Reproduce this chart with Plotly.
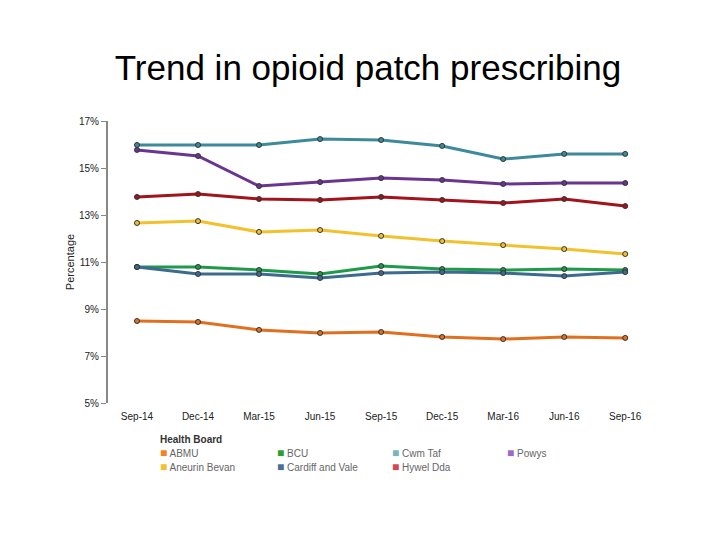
import plotly.graph_objects as go

quarters = ["Sep-14", "Dec-14", "Mar-15", "Jun-15", "Sep-15", "Dec-15", "Mar-16", "Jun-16", "Sep-16"]

abmu = [8.49, 8.45, 8.11, 7.98, 8.02, 7.81, 7.72, 7.81, 7.77]
bcu = [10.79, 10.79, 10.66, 10.49, 10.83, 10.70, 10.66, 10.70, 10.66]
cwm_taf = [15.98, 15.98, 15.98, 16.23, 16.19, 15.94, 15.38, 15.60, 15.60]
powys = [15.77, 15.51, 14.23, 14.40, 14.57, 14.49, 14.32, 14.36, 14.36]
aneurin_bevan = [12.66, 12.74, 12.28, 12.36, 12.11, 11.89, 11.72, 11.55, 11.34]
cardiff_vale = [10.79, 10.49, 10.49, 10.32, 10.53, 10.57, 10.53, 10.40, 10.57]
hywel_dda = [13.77, 13.89, 13.68, 13.64, 13.77, 13.64, 13.51, 13.68, 13.38]

# name, values, line colour, legend swatch colour, legend column, legend row
boards = [
    ("ABMU", abmu, "#e07020", "#f58220", 0, 0),
    ("BCU", bcu, "#1f9a4a", "#2ca02c", 1, 0),
    ("Cwm Taf", cwm_taf, "#3d8a9a", "#78b8b4", 2, 0),
    ("Powys", powys, "#6a3590", "#9b6bbf", 3, 0),
    ("Aneurin Bevan", aneurin_bevan, "#f2c12e", "#f2c12e", 0, 1),
    ("Cardiff and Vale", cardiff_vale, "#3f6a8f", "#4a6f96", 1, 1),
    ("Hywel Dda", hywel_dda, "#a0141e", "#d9464e", 2, 1),
]

fig = go.Figure()
for name, vals, col, _, _, _ in boards:
    fig.add_trace(go.Scatter(
        x=list(range(len(quarters))), y=vals, mode="lines+markers", showlegend=False,
        line=dict(color=col, width=3),
        marker=dict(size=5, color=col, line=dict(color="#333333", width=1)),
        name=name,
    ))

# hand-made legend under the plot
fig.add_annotation(text="<b>Health Board</b>", xref="paper", yref="paper", x=0.09, y=-0.128,
                   xanchor="left", yanchor="middle", showarrow=False,
                   font=dict(size=10, color="#333333"))
col_x = [0.09, 0.302, 0.51, 0.719]
for name, _, _, lcol, c, r in boards:
    fig.add_annotation(
        text=f"<span style='color:{lcol};font-size:12px'>■</span> {name}",
        xref="paper", yref="paper", x=col_x[c], y=-0.176 - r * 0.05,
        xanchor="left", yanchor="middle", showarrow=False,
        font=dict(size=10, color="#666666"))

fig.update_layout(
    width=720, height=540,
    paper_bgcolor="white", plot_bgcolor="white",
    font=dict(family="Liberation Sans, Arial", color="#444444", size=10),
    margin=dict(l=100, r=68, t=113, b=145, autoexpand=False),
    showlegend=False,
    title=dict(text="Trend in opioid patch prescribing", x=0.5, xanchor="center",
               y=0.889, yanchor="middle",
               font=dict(size=35, color="black")),
    xaxis=dict(range=[-0.475, 8.57], tickvals=list(range(len(quarters))), ticktext=quarters,
               showgrid=False, zeroline=False, showline=False,
               ticks="outside", ticklen=4, tickcolor="rgba(0,0,0,0)",
               tickfont=dict(size=10, color="#222222")),
    yaxis=dict(range=[5, 17], tickvals=[5, 7, 9, 11, 13, 15, 17],
               ticktext=["5%", "7%", "9%", "11%", "13%", "15%", "17%"],
               showgrid=False, zeroline=False, showline=True, linecolor="#888888", linewidth=2,
               ticks="outside", ticklen=5, tickcolor="#888888",
               tickfont=dict(size=10, color="#222222"),
               title=dict(text="Percentage", font=dict(size=11, color="#222222"), standoff=2)),
)

fig.write_html("out.html")
